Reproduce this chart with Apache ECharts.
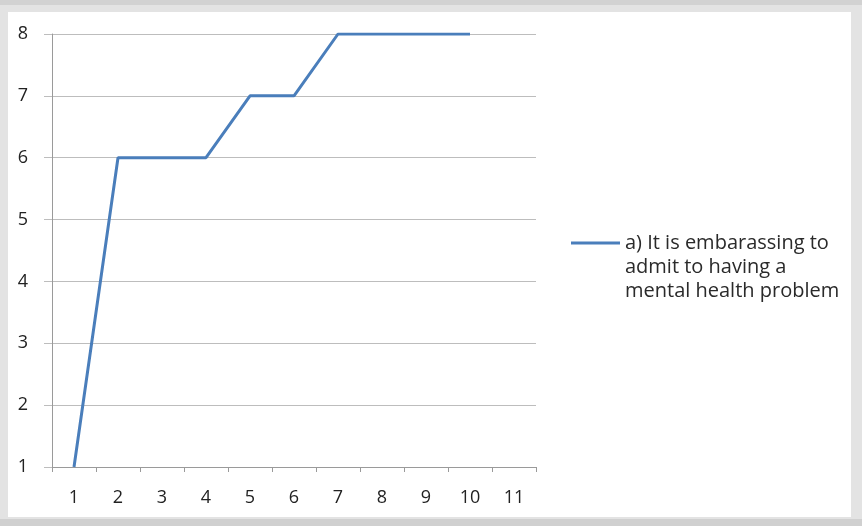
<!DOCTYPE html>
<html><head><meta charset="utf-8">
<script src="https://cdn.jsdelivr.net/npm/echarts@6/dist/echarts.min.js"></script>
<style>html,body{margin:0;padding:0;background:#e3e3e3}#c{width:862px;height:526px}</style>
</head><body><div id="c"></div>
<script>
const categories = ['1','2','3','4','5','6','7','8','9','10','11'];
const seriesName = 'a) It is embarassing to\nadmit to having a\nmental health problem';
const values = [1, 6, 6, 6, 7, 7, 8, 8, 8, 8, null];
const yTicks = {min: 1, max: 8, interval: 1};

const chart = echarts.init(document.getElementById('c'));
chart.setOption({
  backgroundColor: '#e3e3e3',
  animation: false,
  graphic: [
    {type: 'rect', shape: {x: 8, y: 12, width: 843, height: 505}, style: {fill: '#ffffff'}, z: -10},
    {type: 'rect', shape: {x: 0, y: 0, width: 862, height: 5}, style: {fill: '#d2d2d2'}, z: -11},
    {type: 'rect', shape: {x: 0, y: 519, width: 862, height: 7}, style: {fill: '#d0d0d0'}, z: -11}
  ],
  grid: {left: 52, right: 326, top: 34, bottom: 59},
  legend: {
    orient: 'vertical',
    left: 566, top: 178,
    itemWidth: 49, itemHeight: 3,
    itemGap: 0,
    icon: 'rect',
    data: [seriesName],
    formatter: function (n) { return '\n\n' + n; },
    textStyle: {fontFamily: 'Open Sans', fontSize: 20, color: '#2a2a2a', lineHeight: 24}
  },
  xAxis: {
    type: 'category',
    data: categories,
    boundaryGap: true,
    axisLine: {show: true, lineStyle: {color: '#9a9a9a', width: 1}},
    axisTick: {show: true, length: 5, lineStyle: {color: '#9a9a9a'}},
    axisLabel: {fontFamily: 'Open Sans', fontSize: 18, color: '#222', margin: 22},
    splitLine: {show: false}
  },
  yAxis: {
    type: 'value',
    min: yTicks.min, max: yTicks.max, interval: yTicks.interval,
    axisLine: {show: true, lineStyle: {color: '#9a9a9a', width: 1}},
    axisTick: {show: true, length: 8, lineStyle: {color: '#bdbdbd'}},
    axisLabel: {fontFamily: 'Open Sans', fontSize: 18, color: '#222', margin: 24},
    splitLine: {show: true, lineStyle: {color: '#bdbdbd', width: 1}}
  },
  series: [{
    name: seriesName,
    type: 'line',
    data: values,
    symbol: 'none',
    lineStyle: {color: '#4a7ebb', width: 3},
    itemStyle: {color: '#4a7ebb'}
  }]
});
</script></body></html>
